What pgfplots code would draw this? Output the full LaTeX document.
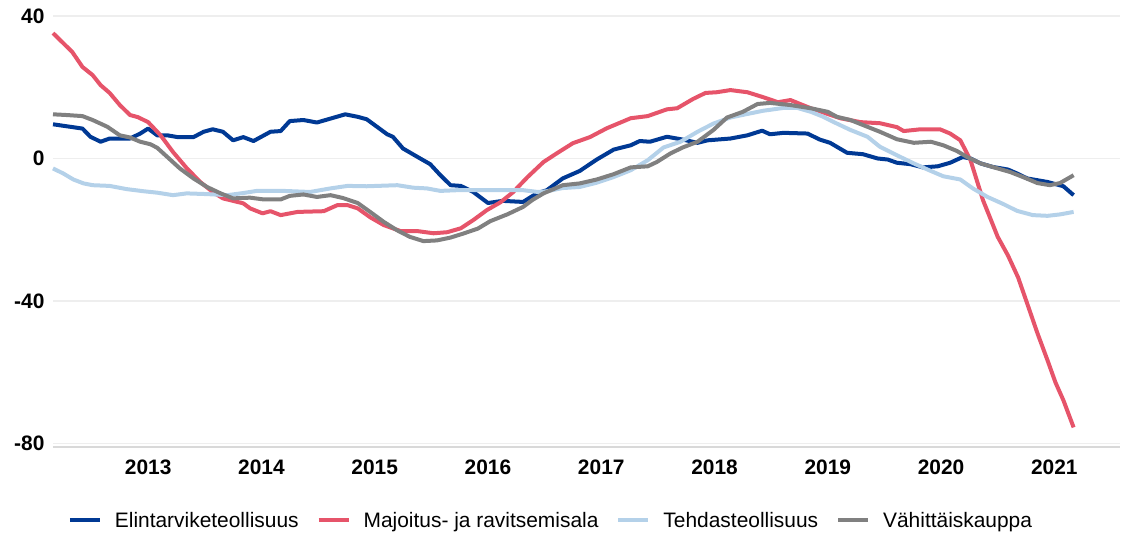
\documentclass[border=0pt]{standalone}
\usepackage{fontspec}
\setmainfont{Liberation Sans}
\usepackage{pgfplots}
\pgfplotsset{compat=1.18}
\definecolor{cBlue}{RGB}{0,57,148}
\definecolor{cRed}{RGB}{230,84,106}
\definecolor{cLight}{RGB}{180,209,233}
\definecolor{cGray}{RGB}{128,128,128}
\definecolor{cGrid}{RGB}{238,238,238}
\definecolor{cAxis}{RGB}{217,217,217}
\begin{document}
\begin{tikzpicture}
\useasboundingbox (-53bp,-86bp) rectangle (1075bp,447bp);
\begin{axis}[
  scale only axis,
  width=1067bp, height=431bp,
  xmin=2012.16, xmax=2021.58,
  ymin=-81, ymax=40,
  axis lines=left,
  axis line style={-},
  y axis line style={draw=none},
  x axis line style={draw=cAxis, line width=1.5bp},
  major tick length=0pt,
  xtick={2013,2014,2015,2016,2017,2018,2019,2020,2021},
  xticklabels={2013,2014,2015,2016,2017,2018,2019,2020,2021},
  ytick={-80,-40,0,40},
  yticklabels={-80,-40,0,40},
  ymajorgrids,
  grid style={draw=cGrid, line width=1.5bp},
  ticklabel style={font=\fontsize{21}{25}\selectfont\bfseries},
  xticklabel style={yshift=-9bp},
  yticklabel style={xshift=-5bp},
  clip=false,
  legend columns=4,
  legend style={draw=none, fill=none, at={(0.011,-0.17)}, anchor=west,
    font=\fontsize{21}{25}\selectfont,
    /tikz/every odd column/.append style={column sep=11bp},
    /tikz/every even column/.append style={column sep=16bp}},
  legend image code/.code={\draw[#1, line width=4bp, line cap=butt] (0bp,0bp) -- (30bp,0bp);},
  every axis plot/.append style={line width=4bp, line join=round, mark=none},
]
\addplot[cBlue] coordinates {
(2012.16,9.6)(2012.42,8.4)(2012.49,6.1)(2012.58,4.7)(2012.66,5.6)(2012.84,5.6)(2012.93,7.0)
(2013.00,8.4)(2013.08,6.5)(2013.17,6.5)(2013.26,6.0)(2013.40,6.0)(2013.49,7.5)(2013.57,8.2)
(2013.66,7.5)(2013.75,5.1)(2013.84,6.0)(2013.93,4.9)(2014.08,7.5)(2014.17,7.7)(2014.25,10.5)
(2014.37,10.8)(2014.49,10.1)(2014.61,11.2)(2014.74,12.4)(2014.85,11.7)(2014.93,11.0)
(2015.02,8.9)(2015.11,6.8)(2015.16,6.1)(2015.25,2.8)(2015.38,0.4)(2015.49,-1.6)(2015.58,-4.7)
(2015.67,-7.5)(2015.76,-7.7)(2015.87,-9.4)(2016.00,-12.5)(2016.13,-11.9)(2016.31,-12.2)
(2016.37,-11.0)(2016.43,-9.8)(2016.52,-8.9)(2016.66,-5.6)(2016.81,-3.5)(2016.96,-0.3)
(2017.11,2.5)(2017.26,3.7)(2017.34,4.9)(2017.43,4.7)(2017.58,6.1)(2017.72,5.3)(2017.85,4.4)
(2017.94,5.1)(2018.14,5.6)(2018.29,6.5)(2018.42,7.8)(2018.49,6.8)(2018.61,7.2)(2018.82,7.0)
(2018.93,5.3)(2019.02,4.4)(2019.17,1.6)(2019.31,1.2)(2019.44,0.0)(2019.53,-0.3)(2019.61,-1.2)
(2019.73,-1.6)(2019.84,-2.5)(2019.97,-2.2)(2020.08,-1.2)(2020.19,0.4)(2020.26,0.0)(2020.35,-1.4)
(2020.46,-2.4)(2020.59,-3.1)(2020.67,-4.2)(2020.76,-5.6)(2020.94,-6.6)(2021.08,-7.8)(2021.17,-10.3)
};
\addlegendentry{Elintarviketeollisuus}
\addplot[cRed] coordinates {
(2012.16,35.2)(2012.33,29.9)(2012.42,25.7)(2012.51,23.4)(2012.58,20.6)(2012.66,18.4)
(2012.75,15.0)(2012.84,12.2)(2012.91,11.6)(2013.00,10.2)(2013.11,6.5)(2013.22,1.8)
(2013.34,-2.7)(2013.46,-6.6)(2013.57,-9.4)(2013.66,-11.2)(2013.84,-12.6)(2013.90,-14.0)
(2014.01,-15.4)(2014.08,-14.8)(2014.17,-15.9)(2014.32,-15.0)(2014.55,-14.8)(2014.67,-13.1)
(2014.76,-13.1)(2014.85,-14.0)(2014.96,-16.5)(2015.08,-18.7)(2015.23,-20.4)(2015.38,-20.4)
(2015.52,-21.0)(2015.64,-20.7)(2015.76,-19.6)(2015.87,-17.3)(2015.99,-14.5)(2016.11,-12.3)
(2016.22,-9.5)(2016.35,-5.2)(2016.49,-1.0)(2016.61,1.5)(2016.75,4.3)(2016.90,6.0)
(2017.05,8.5)(2017.26,11.3)(2017.41,11.9)(2017.58,13.8)(2017.67,14.1)(2017.81,16.7)
(2017.92,18.4)(2018.02,18.6)(2018.14,19.2)(2018.29,18.6)(2018.43,17.2)(2018.56,15.8)
(2018.67,16.4)(2018.85,14.1)(2019.11,11.3)(2019.29,10.2)(2019.46,9.9)(2019.61,8.8)
(2019.67,7.7)(2019.82,8.2)(2019.99,8.2)(2020.08,7.0)(2020.17,5.1)(2020.26,-0.5)
(2020.37,-11.7)(2020.50,-22.0)(2020.59,-27.2)(2020.68,-33.4)(2020.76,-40.7)(2020.85,-49.0)
(2020.94,-56.7)(2021.01,-62.9)(2021.08,-67.9)(2021.17,-75.5)
};
\addlegendentry{Majoitus- ja ravitsemisala}
\addplot[cLight] coordinates {
(2012.16,-2.8)(2012.25,-4.2)(2012.34,-5.9)(2012.43,-7.0)(2012.51,-7.5)(2012.66,-7.7)
(2012.81,-8.6)(2012.96,-9.2)(2013.08,-9.6)(2013.22,-10.3)(2013.34,-9.8)(2013.52,-10.0)
(2013.70,-10.3)(2013.84,-9.7)(2013.96,-9.1)(2014.19,-9.1)(2014.43,-9.4)(2014.61,-8.4)
(2014.76,-7.7)(2014.93,-7.8)(2015.20,-7.5)(2015.34,-8.2)(2015.46,-8.4)(2015.58,-9.1)
(2015.73,-8.9)(2016.02,-8.9)(2016.31,-8.9)(2016.44,-9.4)(2016.52,-9.2)(2016.66,-8.3)
(2016.81,-8.0)(2016.96,-6.8)(2017.11,-5.2)(2017.26,-3.3)(2017.41,-0.5)(2017.55,3.1)
(2017.70,4.7)(2017.85,7.5)(2017.99,9.8)(2018.14,11.5)(2018.29,12.5)(2018.43,13.4)
(2018.61,14.2)(2018.73,14.2)(2018.85,13.1)(2018.96,11.7)(2019.08,9.8)(2019.20,8.0)
(2019.35,6.1)(2019.46,3.3)(2019.61,0.9)(2019.76,-1.4)(2019.88,-3.1)(2020.02,-5.0)
(2020.17,-5.9)(2020.28,-8.4)(2020.41,-10.8)(2020.55,-12.8)(2020.67,-14.7)(2020.81,-15.9)
(2020.94,-16.1)(2021.05,-15.7)(2021.17,-15.0)
};
\addlegendentry{Tehdasteollisuus}
\addplot[cGray] coordinates {
(2012.16,12.4)(2012.28,12.2)(2012.42,11.9)(2012.51,10.8)(2012.64,8.9)(2012.75,6.5)
(2012.84,5.9)(2012.93,4.7)(2013.02,4.0)(2013.08,3.0)(2013.17,0.4)(2013.28,-2.8)
(2013.40,-5.6)(2013.52,-8.0)(2013.64,-9.8)(2013.75,-11.2)(2013.90,-11.0)(2014.02,-11.5)
(2014.17,-11.5)(2014.25,-10.5)(2014.37,-10.1)(2014.49,-10.8)(2014.61,-10.3)(2014.72,-11.1)
(2014.85,-12.5)(2014.96,-15.0)(2015.08,-17.8)(2015.20,-20.2)(2015.31,-22.0)(2015.43,-23.2)
(2015.55,-23.0)(2015.67,-22.2)(2015.78,-21.1)(2015.91,-19.7)(2016.02,-17.6)(2016.17,-15.7)
(2016.31,-13.6)(2016.39,-11.7)(2016.49,-9.8)(2016.66,-7.5)(2016.81,-7.0)(2016.96,-5.9)
(2017.11,-4.4)(2017.26,-2.5)(2017.41,-2.2)(2017.49,-1.0)(2017.61,1.4)(2017.72,3.1)
(2017.85,4.7)(2017.99,8.0)(2018.11,11.5)(2018.25,13.1)(2018.38,15.3)(2018.49,15.6)
(2018.67,15.0)(2018.85,14.1)(2019.00,13.1)(2019.08,11.7)(2019.20,10.8)(2019.31,9.4)
(2019.46,7.5)(2019.61,5.4)(2019.76,4.4)(2019.91,4.7)(2020.02,3.7)(2020.14,2.1)
(2020.23,0.4)(2020.35,-1.4)(2020.50,-2.8)(2020.61,-3.8)(2020.73,-5.3)(2020.85,-6.9)
(2020.96,-7.5)(2021.05,-6.9)(2021.17,-4.7)
};
\addlegendentry{Vähittäiskauppa}
\end{axis}
\end{tikzpicture}
\end{document}
